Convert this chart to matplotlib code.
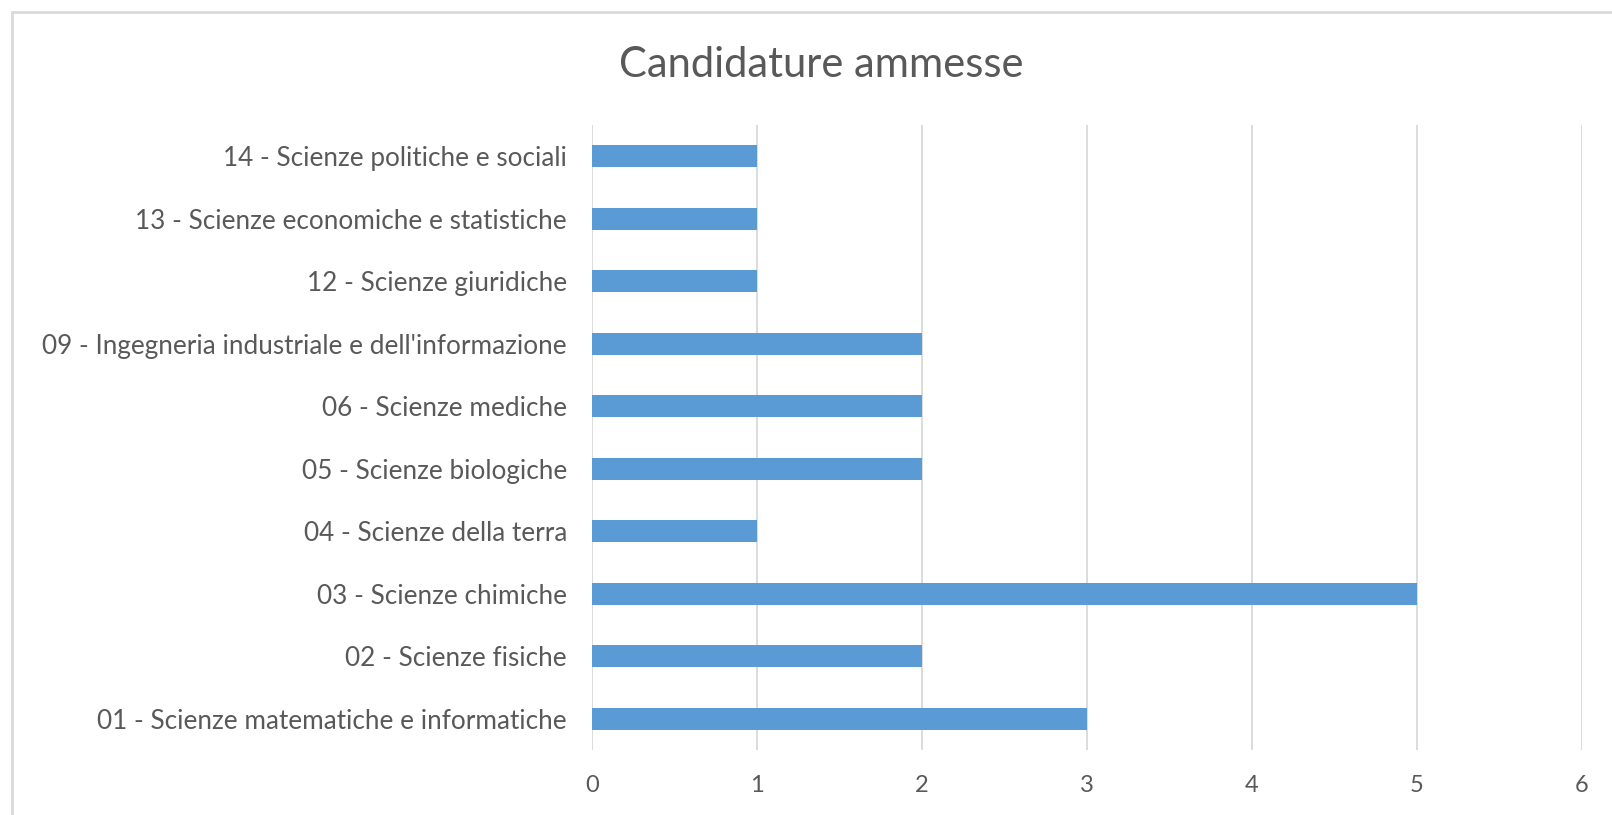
import matplotlib.pyplot as plt
from matplotlib.patches import Rectangle
import numpy as np

# categories from bottom to top, as drawn
categories = [
    "01 - Scienze matematiche e informatiche",
    "02 - Scienze fisiche",
    "03 - Scienze chimiche",
    "04 - Scienze della terra",
    "05 - Scienze biologiche",
    "06 - Scienze mediche",
    "09 - Ingegneria industriale e dell'informazione",
    "12 - Scienze giuridiche",
    "13 - Scienze economiche e statistiche",
    "14 - Scienze politiche e sociali",
]
ammesse = [3, 2, 5, 1, 2, 2, 2, 1, 1, 1]
x_ticks = [0, 1, 2, 3, 4, 5, 6]

bar_color = '#5B9BD5'
text_color = '#595959'
grid_color = '#D9D9D9'

plt.rcParams['font.family'] = ['Lato', 'DejaVu Sans']

fig = plt.figure(figsize=(16.12, 8.15), dpi=100)
fig.patch.set_facecolor('white')

# chart frame (Excel style border)
W, H = 1612, 815
frame = Rectangle((12 / W, -0.05), 1.2, 1 - 12 / H + 0.05,
                  transform=fig.transFigure, fill=False,
                  edgecolor=grid_color, linewidth=2)
fig.patches.append(frame)

ax = fig.add_axes([592 / W, 1 - 750 / H, (1582 - 592) / W, (750 - 125) / H])

y = np.arange(len(categories))
ax.barh(y, ammesse, height=0.35, color=bar_color, zorder=3)

ax.set_xlim(0, 6)
ax.set_ylim(-0.5, len(categories) - 0.5)
ax.set_xticks(x_ticks)
ax.set_yticks(y)
ax.set_yticklabels(categories)

ax.grid(axis='x', color=grid_color, linewidth=1.3, zorder=0)
ax.set_axisbelow(True)
for s in ax.spines.values():
    s.set_visible(False)

ax.tick_params(axis='both', length=0, colors=text_color)
ax.tick_params(axis='x', pad=18, labelsize=17)
ax.tick_params(axis='y', pad=18, labelsize=18.8)

fig.text(821 / W, 1 - 77 / H, 'Candidature ammesse', ha='center',
         va='baseline', fontsize=30, color=text_color)

fig.savefig('out.png', dpi=100)
